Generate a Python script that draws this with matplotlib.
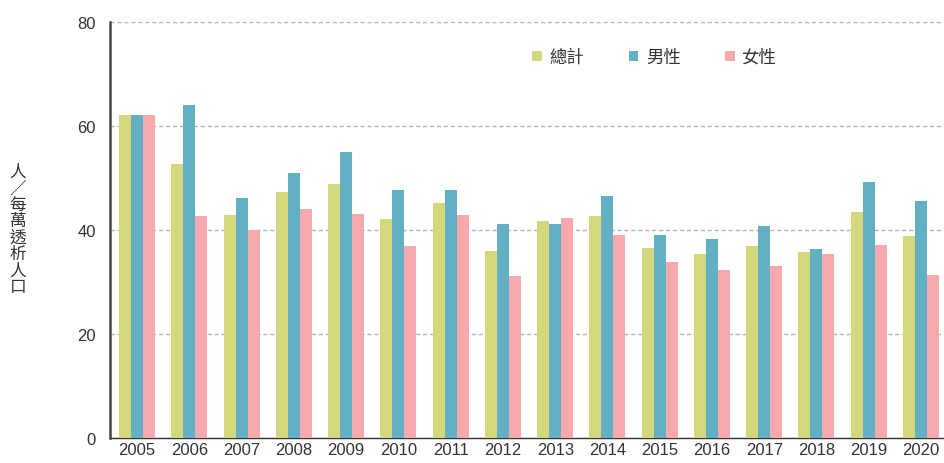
import matplotlib.pyplot as plt
import numpy as np

years = ['2005', '2006', '2007', '2008', '2009', '2010', '2011', '2012',
         '2013', '2014', '2015', '2016', '2017', '2018', '2019', '2020']
total = [62.1, 52.7, 42.9, 47.3, 48.8, 42.1, 45.2, 36.0,
         41.7, 42.7, 36.5, 35.4, 36.9, 35.8, 43.5, 38.8]
male = [62.1, 64.0, 46.2, 51.0, 55.0, 47.7, 47.7, 41.2,
        41.2, 46.5, 39.0, 38.3, 40.8, 36.3, 49.2, 45.6]
female = [62.1, 42.7, 40.0, 44.0, 43.1, 36.9, 42.9, 31.2,
          42.3, 39.0, 33.8, 32.3, 33.1, 35.4, 37.1, 31.3]
labels = ['總計', '男性', '女性']
colors = ['#d4d87c', '#63afc3', '#f7aaad']

plt.rcParams['font.family'] = ['Noto Sans CJK TC', 'DejaVu Sans']

fig = plt.figure(figsize=(9.45, 4.64), dpi=100)
ax = fig.add_axes([110/945, 25/464, 835/945, 416/464])

x = np.arange(len(years))
w = 0.23
for i, (vals, lab, c) in enumerate(zip([total, male, female], labels, colors)):
    ax.bar(x + (i - 1) * w, vals, w, color=c, label=lab, zorder=3)

ax.set_ylim(0, 80)
ax.set_xlim(-0.52, 15.46)
ax.set_yticks([0, 20, 40, 60, 80])
ax.set_xticks(x)
ax.set_xticklabels(years)
ax.yaxis.grid(True, linestyle=(0, (3, 2)), color='#b5b5b5', linewidth=1)
ax.tick_params(length=0, labelsize=12, colors='#333333')
ax.tick_params(axis='y', pad=10)
ax.tick_params(axis='x', pad=3)
for lab in ax.get_xticklabels() + ax.get_yticklabels():
    lab.set_family('Liberation Sans')

for s in ['top', 'right']:
    ax.spines[s].set_visible(False)
ax.spines['left'].set_color('#444444')
ax.spines['left'].set_linewidth(1.8)
ax.spines['bottom'].set_color('#333333')
ax.spines['bottom'].set_linewidth(1)

fig.text(18/945, 1 - 230/464, '\n'.join('人／每萬透析人口'), ha='center', va='center',
         fontsize=12, color='#333333', linespacing=0.95, fontweight='light')

ax.legend(loc='upper left', bbox_to_anchor=(0.487, 0.975), ncol=3, frameon=False,
          prop={'family': ['Noto Sans CJK TC'], 'size': 12.5, 'weight': 'light'},
          handlelength=0.55, handleheight=0.55, handletextpad=0.45,
          columnspacing=2.55, labelcolor='#333333')

plt.savefig('out.png', dpi=100)
